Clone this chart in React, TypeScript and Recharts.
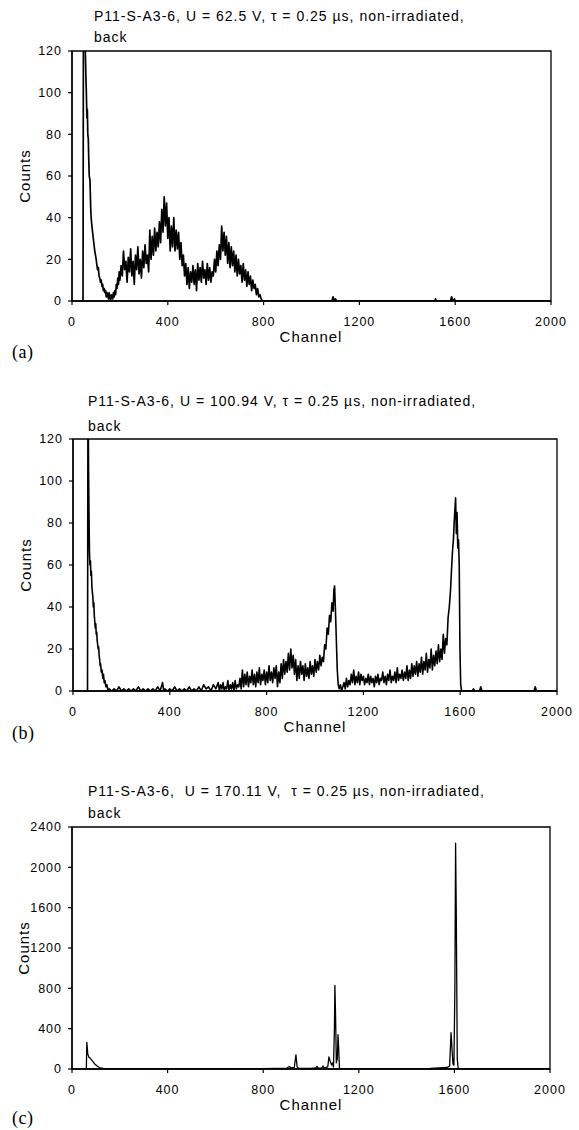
import React from 'react';
import { LineChart, Line, XAxis, YAxis, ReferenceArea } from 'recharts';

// ---------- Panel (a): U = 62.5 V ----------
const A_CH = [
  46, 48, 52, 56, 58, 60, 62, 64, 66, 68, 70, 72, 75, 78, 80, 83, 86, 89, 92, 95,
  98, 101, 104, 107, 110, 113, 116, 119, 122, 125, 128, 131, 134, 137, 140, 143, 146, 149, 152, 155,
  158, 161, 164, 167, 170, 173, 176, 179, 182, 185, 188, 191, 194, 197, 200,
  205, 210, 215, 220, 225, 230, 235, 240, 245, 250,
  255, 260, 265, 270, 275, 280, 285, 290, 295, 300,
  305, 310, 315, 320, 325, 330, 335, 340, 345, 350,
  355, 360, 365, 370, 375, 380, 385, 390, 395, 400,
  405, 410, 415, 420, 425, 430, 435, 440, 445, 450,
  455, 460, 465, 470, 475, 480, 485, 490, 495, 500,
  505, 510, 515, 520, 525, 530, 535, 540, 545, 550,
  555, 560, 565, 570, 575, 580, 585, 590, 595, 600,
  605, 610, 615, 620, 625, 630, 635, 640, 645, 650,
  655, 660, 665, 670, 675, 680, 685, 690, 695, 700,
  705, 710, 715, 720, 725, 730, 735, 740, 745, 750,
  755, 760, 765, 770, 775, 780, 785, 790, 795,
  800, 1085, 1090, 1095, 1100, 1105, 1515, 1518, 1521, 1580, 1585, 1590, 1597, 1600, 2000,
];
const A_CNT = [
  0, 160, 140, 118, 108, 100, 88, 92, 80, 78, 68, 60, 58, 45, 40, 36, 33, 30, 27, 24,
  22, 20, 17, 15, 16, 12, 11, 9, 10, 7, 8, 5, 6, 4, 5, 2, 4, 3, 1, 4,
  2, 0, 3, 2, 1, 4, 2, 5, 3, 8, 6, 11, 8, 14, 10,
  17, 12, 24, 15, 19, 9, 21, 14, 25, 12,
  19, 8, 22, 15, 26, 13, 20, 11, 24, 16,
  27, 18, 22, 14, 34, 20, 31, 22, 35, 24,
  33, 26, 38, 28, 44, 33, 50, 36, 47, 30,
  40, 24, 36, 26, 40, 24, 34, 25, 33, 20,
  28, 17, 22, 12, 18, 8, 16, 6, 14, 9,
  17, 8, 15, 5, 18, 10, 16, 9, 19, 11,
  15, 8, 18, 10, 16, 9, 14, 12, 20, 14,
  24, 17, 27, 20, 36, 24, 33, 22, 31, 18,
  28, 16, 26, 17, 24, 14, 22, 12, 20, 13,
  17, 9, 18, 10, 15, 7, 14, 8, 12, 5,
  10, 6, 8, 3, 6, 2, 3, 1, 0,
  0, 0, 2, 0, 1, 0, 0, 1, 0, 0, 2, 0, 1, 0, 0,
];

// ---------- Panel (b): U = 100.94 V ----------
const B_CH = [
  60, 62, 64, 66, 68, 70, 72, 74, 76, 78, 80, 82, 84, 86, 88, 90, 92, 94, 96, 98,
  100, 102, 104, 106, 108, 110, 112, 114, 117, 120, 123, 126, 129, 132, 136, 140, 145,
  150, 160, 170, 180, 190, 200, 210, 220, 230, 240, 250, 260, 270, 280, 290, 300, 310, 320, 330, 340,
  350, 360, 370, 375, 380, 390, 400, 410, 420, 430, 440, 450, 460, 470, 480, 490, 500, 510, 520, 530,
  540, 550, 560, 570, 580, 590,
  600, 605, 610, 615, 620, 625, 630, 635, 640, 645, 650, 655, 660, 665, 670, 675, 680, 685, 690, 695,
  700, 705, 710, 715, 720, 725, 730, 735, 740, 745,
  750, 755, 760, 765, 770, 775, 780, 785, 790, 795,
  800, 805, 810, 815, 820, 825, 830, 835, 840, 845,
  850, 855, 860, 865, 870, 875, 880, 885, 890, 895,
  900, 905, 910, 915, 920, 925, 930, 935, 940, 945,
  950, 955, 960, 965, 970, 975, 980, 985, 990, 995,
  1000, 1005, 1010, 1015, 1020, 1025, 1030, 1035,
  1040, 1045, 1050, 1055, 1060, 1065, 1070, 1075, 1078, 1081, 1084, 1088, 1092, 1096, 1100,
  1105, 1110, 1115, 1120, 1125, 1130, 1135, 1140, 1145, 1150,
  1155, 1160, 1165, 1170, 1175, 1180, 1185, 1190, 1195, 1200,
  1205, 1210, 1215, 1220, 1225, 1230, 1235, 1240, 1245, 1250,
  1255, 1260, 1265, 1270, 1275, 1280, 1285, 1290, 1295, 1300,
  1305, 1310, 1315, 1320, 1325, 1330, 1335, 1340, 1345, 1350,
  1355, 1360, 1365, 1370, 1375, 1380, 1385, 1390, 1395, 1400,
  1405, 1410, 1415, 1420, 1425, 1430, 1435, 1440, 1445, 1450,
  1455, 1460, 1465, 1470, 1475, 1480, 1485, 1490, 1495, 1500,
  1505, 1510, 1515, 1520, 1525, 1530, 1535, 1540, 1545,
  1550, 1555, 1560, 1563, 1566, 1569, 1572, 1575, 1578, 1581, 1584, 1587, 1590, 1593, 1596, 1599, 1602, 1606,
  1650, 1655, 1660, 1680, 1685, 1690, 1905, 1910, 1915, 2000,
];
const B_CNT = [
  0, 160, 110, 85, 66, 60, 62, 55, 57, 50, 47, 45, 40, 42, 36, 33, 30, 32, 27, 28,
  24, 22, 20, 21, 17, 15, 12, 13, 9, 10, 6, 8, 4, 5, 2, 3, 0,
  1, 0, 1, 0, 2, 0, 1, 0, 1, 0, 1, 0, 2, 0, 1, 0, 1, 0, 1, 0,
  2, 0, 4, 0, 1, 0, 1, 0, 2, 0, 1, 0, 1, 0, 2, 0, 1, 0, 2, 0,
  3, 1, 2, 0, 3, 1,
  4, 0, 3, 1, 4, 0, 2, 1, 5, 0, 3, 1, 4, 0, 5, 1, 3, 2, 6, 1,
  10, 2, 8, 3, 9, 2, 7, 4, 10, 3,
  8, 2, 9, 4, 11, 3, 8, 5, 10, 3,
  9, 4, 12, 5, 9, 4, 11, 6, 12, 2,
  9, 4, 13, 6, 15, 8, 14, 9, 18, 10,
  20, 11, 17, 8, 15, 5, 12, 6, 14, 8,
  12, 5, 13, 7, 11, 6, 14, 8, 12, 7,
  15, 9, 14, 10, 17, 12, 16, 14,
  22, 20, 30, 27, 36, 33, 42, 38, 48, 50, 40, 25, 10, 3, 1,
  3, 0, 2, 4, 1, 6, 2, 5, 3, 8,
  4, 10, 3, 7, 4, 9, 3, 8, 5, 7,
  3, 6, 4, 8, 3, 7, 4, 6, 2, 7,
  4, 8, 3, 6, 5, 9, 4, 7, 3, 8,
  5, 10, 4, 7, 5, 9, 4, 11, 5, 8,
  6, 10, 5, 9, 6, 12, 5, 10, 6, 13,
  7, 12, 8, 14, 7, 13, 9, 16, 8, 14,
  10, 18, 9, 15, 11, 20, 10, 17, 12, 19,
  13, 22, 14, 20, 15, 27, 18, 25, 22,
  35, 40, 48, 55, 62, 68, 72, 80, 86, 92, 75, 85, 68, 72, 60, 20, 3, 0,
  0, 1, 0, 0, 2, 0, 0, 2, 0, 0,
];

// ---------- Panel (c): U = 170.11 V ----------
const C_CH = [
  60, 62, 66, 70, 75, 80, 85, 90, 95, 100, 105, 110, 115, 120, 130, 140, 160, 200, 600, 800,
  900, 905, 910, 915, 930, 937, 942, 950, 1000, 1020, 1025, 1030, 1045, 1050, 1055,
  1070, 1075, 1080, 1086, 1090, 1094, 1098, 1100, 1103, 1106, 1110, 1113, 1116, 1119, 1125,
  1500, 1570, 1580, 1586, 1590, 1594, 1598, 1602, 1605, 1608, 1612, 1616, 2000,
];
const C_CNT = [
  0, 265, 150, 120, 110, 95, 80, 65, 50, 40, 30, 22, 15, 10, 6, 3, 1, 0, 2, 4,
  8, 20, 25, 10, 15, 140, 20, 5, 5, 10, 25, 8, 10, 30, 8,
  20, 120, 80, 40, 60, 20, 400, 830, 500, 60, 100, 340, 200, 10, 0,
  5, 15, 30, 360, 200, 50, 40, 800, 2240, 1500, 100, 0, 0,
];

const X_TICKS = [0, 400, 800, 1200, 1600, 2000];
const Y_TICKS_AB = [0, 20, 40, 60, 80, 100, 120];
const Y_TICKS_C = [0, 400, 800, 1200, 1600, 2000, 2400];

const TITLE_A = 'P11-S-A3-6, U = 62.5 V, \u03c4 = 0.25 \u00b5s, non-irradiated,';
const TITLE_B = 'P11-S-A3-6, U = 100.94 V, \u03c4 = 0.25 \u00b5s, non-irradiated,';
const TITLE_C = 'P11-S-A3-6,  U = 170.11 V,  \u03c4 = 0.25 \u00b5s, non-irradiated,';

const SANS = '"Liberation Sans", Arial, Helvetica, sans-serif';
const SERIF = '"Liberation Serif", "Times New Roman", serif';

function toRows(ch: number[], cnt: number[]) {
  return ch.map((c, i) => ({ ch: c, v: cnt[i] }));
}

type PanelProps = {
  top: number;
  height: number;
  margin: { top: number; right: number; bottom: number; left: number };
  ch: number[];
  cnt: number[];
  yMax: number;
  yTicks: number[];
  lineWidth: number;
};

function Panel({ top, height, margin, ch, cnt, yMax, yTicks, lineWidth }: PanelProps) {
  const data = toRows(ch, cnt);
  const tickStyle = { fontSize: 12.5, fill: '#000', fontFamily: SANS, letterSpacing: 1 };
  return (
    <div style={{ position: 'absolute', left: 0, top, width: 579, height }}>
      <LineChart width={579} height={height} data={data} margin={margin}>
        <XAxis
          type="number"
          dataKey="ch"
          domain={[0, 2000]}
          ticks={X_TICKS}
          interval={0}
          height={30}
          tickSize={4}
          tickMargin={12}
          tick={tickStyle}
          axisLine={{ stroke: '#000', strokeWidth: 1.3 }}
          tickLine={{ stroke: '#000', strokeWidth: 1.2 }}
          allowDataOverflow
        />
        <YAxis
          type="number"
          domain={[0, yMax]}
          ticks={yTicks}
          interval={0}
          width={40}
          tickSize={4}
          tickMargin={6}
          tick={tickStyle}
          axisLine={{ stroke: '#000', strokeWidth: 1.3 }}
          tickLine={{ stroke: '#000', strokeWidth: 1.2 }}
          allowDataOverflow
        />
        <ReferenceArea x1={0} x2={2000} y1={0} y2={yMax} fill="none" stroke="#000" strokeWidth={1.3} ifOverflow="visible" />
        <Line
          type="linear"
          dataKey="v"
          stroke="#000"
          strokeWidth={lineWidth}
          strokeLinejoin="round"
          dot={false}
          activeDot={false}
          isAnimationActive={false}
        />
      </LineChart>
    </div>
  );
}

function Txt({ x, y, children, size = 14, center = false, family = SANS, spacing = 1 }: any) {
  return (
    <div
      style={{
        position: 'absolute',
        left: center ? x - 200 : x,
        width: center ? 400 : undefined,
        top: y - size * 0.57,
        fontSize: size,
        lineHeight: `${size * 1.14}px`,
        fontFamily: family,
        letterSpacing: spacing,
        whiteSpace: 'pre',
        textAlign: center ? 'center' : 'left',
        color: '#000',
      }}
    >
      {children}
    </div>
  );
}

function VTxt({ x, y, children, size = 15 }: any) {
  return (
    <div
      style={{
        position: 'absolute',
        left: x - 100,
        top: y - 10,
        width: 200,
        height: 20,
        lineHeight: '20px',
        textAlign: 'center',
        fontSize: size,
        fontFamily: SANS,
        letterSpacing: 1,
        transform: 'rotate(-90deg)',
        color: '#000',
      }}
    >
      {children}
    </div>
  );
}

export default function App() {
  return (
    <div style={{ position: 'absolute', left: 0, top: 0, width: 579, height: 1130, background: '#fff', overflow: 'hidden' }}>
      {/* Panel (a) */}
      <Txt x={94} y={17}>{TITLE_A}</Txt>
      <Txt x={94} y={38}>back</Txt>
      <Panel top={0} height={360} margin={{ top: 51, right: 28, bottom: 29, left: 32 }} ch={A_CH} cnt={A_CNT} yMax={120} yTicks={Y_TICKS_AB} lineWidth={1.7} />
      <VTxt x={25} y={176}>Counts</VTxt>
      <Txt x={311} y={337} size={15} center>Channel</Txt>
      <Txt x={12} y={352} size={18} family={SERIF} spacing={0.5}>(a)</Txt>

      {/* Panel (b) */}
      <Txt x={88} y={402}>{TITLE_B}</Txt>
      <Txt x={88} y={427}>back</Txt>
      <Panel top={370} height={380} margin={{ top: 69, right: 22, bottom: 29, left: 33 }} ch={B_CH} cnt={B_CNT} yMax={120} yTicks={Y_TICKS_AB} lineWidth={1.6} />
      <VTxt x={26} y={565}>Counts</VTxt>
      <Txt x={315} y={727} size={15} center>Channel</Txt>
      <Txt x={12} y={733} size={18} family={SERIF} spacing={0.5}>(b)</Txt>

      {/* Panel (c) */}
      <Txt x={88} y={792}>{TITLE_C}</Txt>
      <Txt x={88} y={814}>back</Txt>
      <Panel top={750} height={380} margin={{ top: 77, right: 29, bottom: 31, left: 32 }} ch={C_CH} cnt={C_CNT} yMax={2400} yTicks={Y_TICKS_C} lineWidth={1.3} />
      <VTxt x={24} y={948}>Counts</VTxt>
      <Txt x={311} y={1105} size={15} center>Channel</Txt>
      <Txt x={12} y={1118} size={18} family={SERIF} spacing={0.5}>(c)</Txt>
    </div>
  );
}
